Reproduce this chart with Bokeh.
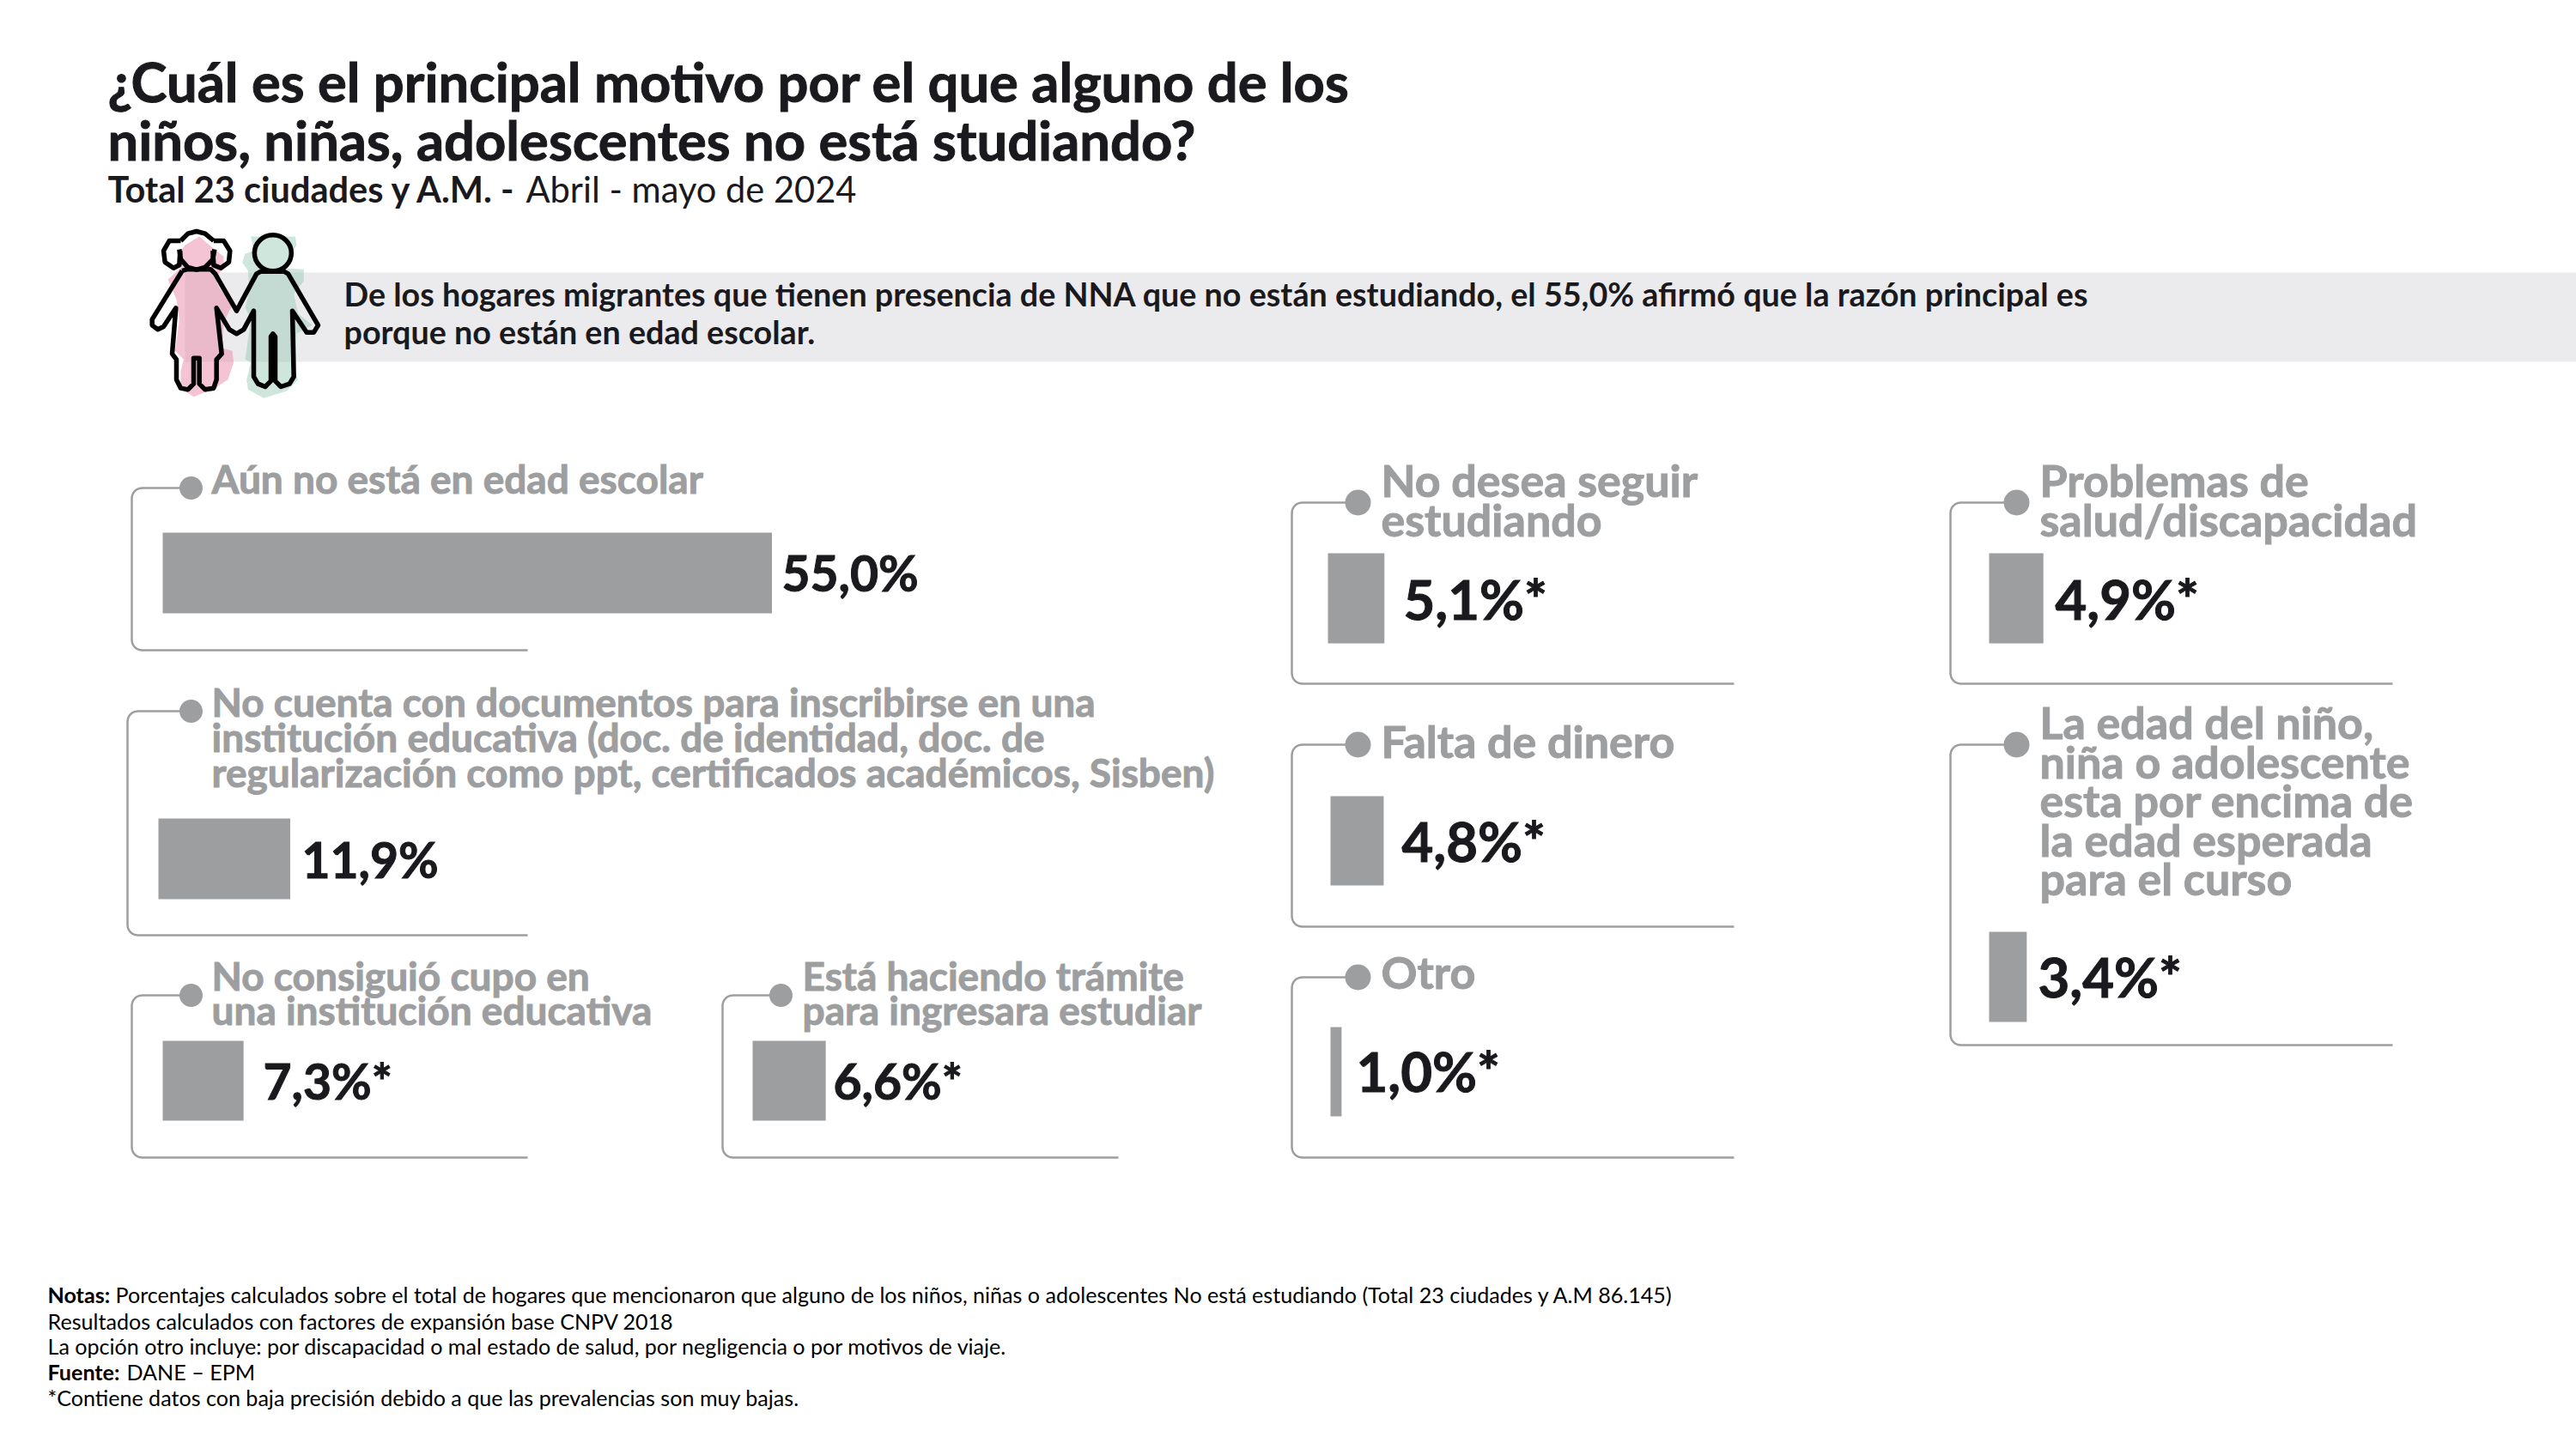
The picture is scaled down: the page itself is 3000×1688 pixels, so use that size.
from bokeh.plotting import figure
from bokeh.models import Range1d
from bokeh.core.properties import value
from bokeh.embed import file_html
from bokeh.resources import INLINE
import math

# ---------- data ----------
categories = [
    ["Aún no está en edad escolar"],
    ["No cuenta con documentos para inscribirse en una",
     "institución educativa (doc. de identidad, doc. de",
     "regularización como ppt, certificados académicos, Sisben)"],
    ["No consiguió cupo en", "una institución educativa"],
    ["Está haciendo trámite", "para ingresara estudiar"],
    ["No desea seguir", "estudiando"],
    ["Falta de dinero"],
    ["Otro"],
    ["Problemas de", "salud/discapacidad"],
    ["La edad del niño,", "niña o adolescente", "esta por encima de", "la edad esperada", "para el curso"],
]
values = [55.0, 11.9, 7.3, 6.6, 5.1, 4.8, 1.0, 4.9, 3.4]
value_labels = ["55,0%", "11,9%", "7,3%*", "6,6%*", "5,1%*", "4,8%*", "1,0%*", "4,9%*", "3,4%*"]

title_lines = ["¿Cuál es el principal motivo por el que alguno de los",
               "niños, niñas, adolescentes no está studiando?"]
callout_lines = ["De los hogares migrantes que tienen presencia de NNA que no están estudiando, el 55,0% afirmó que la razón principal es",
                 "porque no están en edad escolar."]
notes = [
    ("Notas:", "Porcentajes calculados sobre el total de hogares que mencionaron que alguno de los niños, niñas o adolescentes No está estudiando (Total 23 ciudades y A.M 86.145)"),
    ("", "Resultados calculados con factores de expansión base CNPV 2018"),
    ("", "La opción otro incluye: por discapacidad o mal estado de salud, por negligencia o por motivos de viaje."),
    ("Fuente:", "DANE – EPM"),
    ("", "*Contiene datos con baja precisión debido a que las prevalencias son muy bajas."),
]

# ---------- layout (separate from data) ----------
PX_PER_PCT = 12.9
GREY = "#9D9EA0"
INK = "#1A1A1E"
panels = [
    # left, top, bottom, right, dot_x, bar_x, bar_top, bar_bot, val_x, val_y, val_size, lab_x, baselines, lab_size, dot_d
    (153, 568, 757, 614, 222, 189, 620, 714, 910, 689, 57, 246, [575], 46, 27),
    (148, 828, 1089, 614, 222, 184, 953, 1047, 351, 1023, 57, 246, [835, 876, 917], 46, 27),
    (153, 1159, 1348, 614, 222, 189, 1212, 1305, 306, 1281, 57, 246, [1154, 1194], 46, 27),
    (841, 1159, 1348, 1302, 909, 876, 1212, 1305, 970, 1281, 57, 934, [1154, 1194], 46, 27),
    (1504, 585, 796, 2019, 1581, 1546, 644, 749, 1634, 722, 63.5, 1608, [579, 625], 52, 30),
    (1504, 867, 1079, 2019, 1581, 1549, 927, 1031, 1632, 1004, 63.5, 1608, [883], 52, 30),
    (1504, 1138, 1348, 2019, 1581, 1549, 1196, 1300, 1579, 1272, 63.5, 1608, [1152], 52, 30),
    (2271, 585, 796, 2786, 2348, 2316, 644, 749, 2393, 722, 63.5, 2375, [579, 625], 52, 30),
    (2271, 867, 1217, 2786, 2348, 2316, 1085, 1190, 2373, 1162, 63.5, 2375, [861, 907, 952, 998, 1043], 52, 30),
]

p = figure(width=3000, height=1688, output_backend="svg", toolbar_location=None,
           x_range=Range1d(0, 3000), y_range=Range1d(1688, 0), min_border=0,
           border_fill_color="white", background_fill_color="white")
p.axis.visible = False
p.grid.visible = False
p.outline_line_color = None

LATO = value("Lato")
BASE_SHIFT = 0.39

def txt(x, y, s, size, color=INK, font=LATO, style="normal", outline=None):
    p.text([x], [y - BASE_SHIFT * size], text=[s], text_font=font, text_font_size=f"{size}px", text_font_style=style,
           text_color=color, text_baseline="alphabetic", text_align="left", text_outline_color=outline)

# title
txt(125, 119, title_lines[0], 63.3, style="bold", outline=INK)
txt(125, 187, title_lines[1], 63.3, style="bold", outline=INK)
txt(125, 236, "Total 23 ciudades y A.M. -", 41.5, style="bold")
txt(612, 236, "Abril - mayo de 2024", 41.6)

# callout band
p.quad(left=[215], right=[3000], top=[317], bottom=[421], fill_color="#EBEBED", line_color=None)

# icon (decoration)
def zx(v): return 160 + v / 3.0
def zy(v): return 255 + v / 3.0
pink = [(165,90),(215,60),(250,90),(300,130),(300,175),(270,200),(285,240),(330,300),(300,360),(295,450),(330,460),(335,500),(315,560),(270,590),(195,620),(150,590),(150,530),(160,490),(130,460),(145,350),(135,280),(105,210),(150,170),(150,110)]
green = [(395,60),(550,60),(555,90),(530,130),(505,170),(580,175),(580,215),(545,260),(560,330),(610,370),(555,400),(550,540),(560,560),(520,600),(440,625),(385,595),(380,560),(395,500),(375,490),(395,350),(375,310),(390,250),(385,180),(365,150),(375,120),(405,110)]
p.patch([zx(a) for a, b in pink], [zy(b) for a, b in pink], fill_color="#E97CA0", fill_alpha=0.45, line_color=None)
p.patch([zx(a) for a, b in green], [zy(b) for a, b in green], fill_color="#95C8B4", fill_alpha=0.45, line_color=None)
outline = [(155,180),(50,350),(50,370),(70,385),(90,375),(133,310),(120,470),(135,490),(135,560),(150,590),(175,595),(195,575),(195,485),(215,485),(215,575),(235,595),(265,590),(275,560),(275,490),(293,470),(275,310),(320,385),(345,400),(370,385),(405,320),(405,550),(420,575),(445,585),(465,565),(465,410),(472,400),(480,410),(480,565),(500,585),(530,575),(545,550),(540,320),(590,395),(615,395),(630,370),(525,190),(510,182),(430,182),(415,190),(345,320),(270,190),(255,175),(170,175),(155,180)]
p.line([zx(a) for a, b in outline], [zy(b) for a, b in outline], line_color="black", line_width=5.5, line_join="round")
p.ellipse([zx(472)], [zy(118)], width=[43], height=[42], fill_color=None, line_color="black", line_width=5.5)
head_lines = [
    [(145,105),(150,140),(175,168),(205,176),(235,168),(262,140),(268,105)],
    [(150,75),(110,75),(90,110),(95,150),(125,170),(145,160),(148,110)],
    [(265,75),(300,75),(322,110),(318,150),(290,170),(265,160),(262,110)],
    [(150,75),(175,50),(205,42),(235,50),(265,75)],
]
for h in head_lines:
    p.line([zx(a) for a, b in h], [zy(b) for a, b in h], line_color="black", line_width=5.5, line_join="round")

for i, s in enumerate(callout_lines):
    txt(400, [357, 401][i], s, 37.7, style="bold")

# panels
for cat, val, lab, pn in zip(categories, values, value_labels, panels):
    l, t, b, r, dx, bx, bt, bb, vx, vy, vs, lx, bases, ls, dd = pn
    rad = 12
    arc1 = [(l + rad - rad * math.sin(math.radians(a)), t + rad - rad * math.cos(math.radians(a))) for a in range(0, 91, 15)]
    arc2 = [(l + rad - rad * math.cos(math.radians(a)), b - rad + rad * math.sin(math.radians(a))) for a in range(0, 91, 15)]
    pts = [(dx, t)] + arc1 + arc2 + [(r, b)]
    p.line([q[0] for q in pts], [q[1] for q in pts], line_color=GREY, line_width=2.5)
    p.ellipse([dx], [t], width=[dd], height=[dd], fill_color=GREY, line_color=None)
    p.quad(left=[bx], right=[bx + val * PX_PER_PCT], top=[bt], bottom=[bb], fill_color=GREY, line_color=None)
    txt(vx, vy, lab, vs, style="bold", outline=INK)
    for base, line in zip(bases, cat):
        txt(lx, base, line, ls, color=GREY, style="bold", outline=GREY)

# footer
bases = [1517, 1548, 1577, 1607, 1637]
offs = {"Notas:": 134, "Fuente:": 147}
for base, (bold, rest) in zip(bases, notes):
    if bold:
        txt(55, base, bold, 25.1, color="black", style="bold")
    txt(offs.get(bold, 55), base, rest, 25.1, color="black")

open("out.html", "w").write(file_html(p, INLINE))
